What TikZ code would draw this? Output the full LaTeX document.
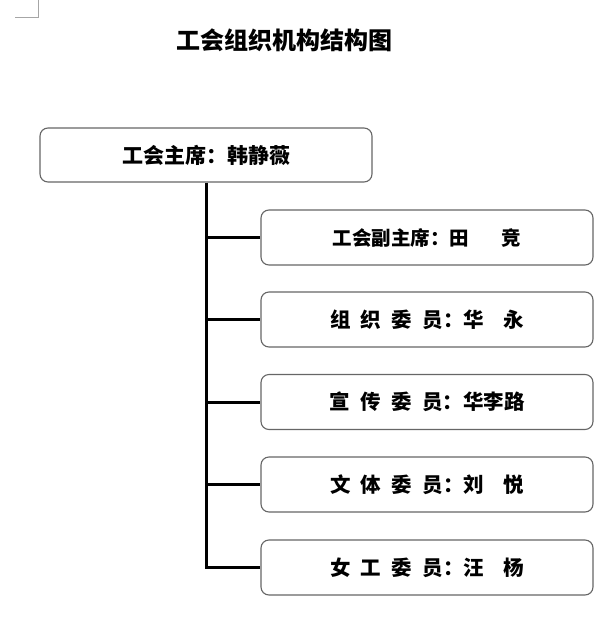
\documentclass[tikz,border=0pt]{standalone}
\usepackage{fontspec}
\newfontfamily\cjk{Noto Sans CJK SC}
\begin{document}
\begin{tikzpicture}[x=1pt,y=-1pt,
  box/.style={draw=black!60, line width=1.1pt, rounded corners=8pt, minimum width=332pt, minimum height=54pt, inner sep=0pt, fill=white},
  conn/.style={draw=black, line width=3pt},
  cornermark/.style={draw=black!35, line width=1pt},
  lab/.style={font=\cjk\bfseries\fontsize{20.5}{24}\selectfont}]
\useasboundingbox (0,0) rectangle (609,619);
% page corner mark
\coordinate (k1) at (38.5,0);
\coordinate (k2) at (38.5,17);
\coordinate (k3) at (15,17);
\draw[cornermark] (k1) -- (k2) -- (k3);
% title
\node[font=\cjk\bfseries\fontsize{24}{28}\selectfont] (title) at (284.5,40) {工会组织机构结构图};
% boxes
\node[box, font=\cjk\bfseries\fontsize{21}{24}\selectfont] (m) at (206,155) {工会主席：韩静薇};
\node[box, minimum height=55pt, font=\cjk\bfseries\fontsize{19.5}{24}\selectfont] (c1) at (427,237.5) {工会副主席：田\hspace{33pt}竞};
\node[box, minimum height=55pt, lab] (c2) at (427,319.5) {组\hspace{10.5pt}织\hspace{10.5pt}委\hspace{10.5pt}员：华\hspace{19pt}永};
\node[box, minimum height=55pt, lab] (c3) at (427,402) {宣\hspace{10.5pt}传\hspace{10.5pt}委\hspace{10.5pt}员：华李路};
\node[box, minimum height=55pt, lab] (c4) at (427,484.5) {文\hspace{10.5pt}体\hspace{10.5pt}委\hspace{10.5pt}员：刘\hspace{19pt}悦};
\node[box, minimum height=55pt, lab] (c5) at (427,567.5) {女\hspace{10.5pt}工\hspace{10.5pt}委\hspace{10.5pt}员：汪\hspace{19pt}杨};
% connectors
\draw[conn] (m.south) -- (m.south |- c5.west) -- (c5.west);
\foreach \i in {1,2,3,4} \draw[conn] (m.south |- c\i.west) -- (c\i.west);
\end{tikzpicture}
\end{document}
